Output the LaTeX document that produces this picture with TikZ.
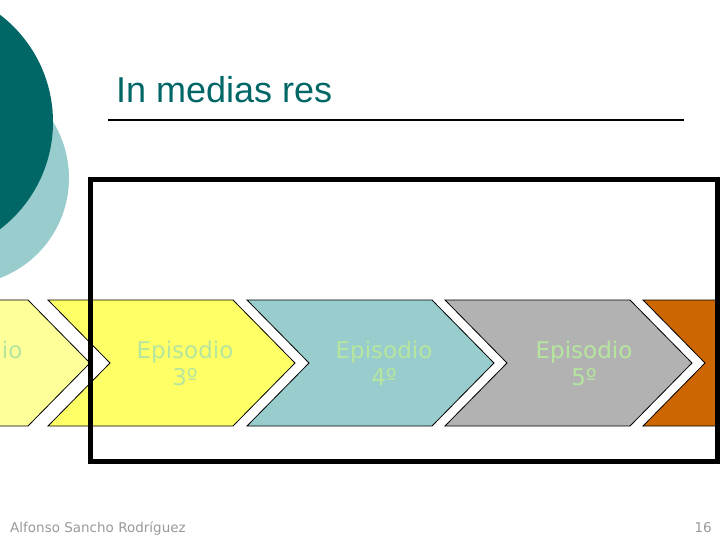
\documentclass[tikz,border=0pt]{standalone}
\usepackage{fontspec}
\setmainfont{Liberation Sans}
\newfontfamily\epfont{DejaVu Sans}
\definecolor{tealdark}{HTML}{006666}
\definecolor{tealpale}{HTML}{99CCCC}
\definecolor{yellowpale}{HTML}{FFFF99}
\definecolor{yellowmid}{HTML}{FFFF66}
\definecolor{greymid}{HTML}{B2B2B2}
\definecolor{orangedeep}{HTML}{CC6600}
\definecolor{epgreen}{HTML}{B6E69E}
\definecolor{footgrey}{HTML}{999999}

\begin{document}
\begin{tikzpicture}[
    x=1pt, y=-1pt,
    chevron/.style={draw=black, line width=0.8pt, line join=miter},
    eplabel/.style={font=\epfont\fontsize{23}{27}\selectfont, text=epgreen, align=center},
    title/.style={font=\fontsize{36}{40}\selectfont, text=tealdark, anchor=base west, inner sep=0pt},
    footer/.style={font=\epfont\fontsize{13.5}{15}\selectfont, text=footgrey, inner sep=0pt},
    frame/.style={draw=black, line width=5pt}
]
\useasboundingbox (0,0) rectangle (720,540);
\clip (0,0) rectangle (720,540);
% circles in the corner
\fill[tealpale] (-38,178) circle (107);
\fill[tealdark] (-82,122) circle (135);
% title and rule
\node[title] (title) at (116,103) {In medias res};
\coordinate (ruleL) at (108,120);
\coordinate (ruleR) at (684,120);
\draw[line width=1.2pt] (ruleL) -- (ruleR);
% chevrons
\foreach \x/\col/\num/\tx in {-157/yellowpale/2/-26, 48/yellowmid/3/185, 247/tealpale/4/384, 445/greymid/5/584}{
  \filldraw[chevron, fill=\col] (\x,300) -- ++(185,0) -- ++(62,63) -- ++(-62,63)
      -- ++(-185,0) -- ++(62,-63) -- cycle;
  \node[eplabel] (ep\num) at (\tx,363) {Episodio\\\num º};
}
\filldraw[chevron, fill=orangedeep] (643,300) -- (760,300) -- (760,426)
    -- (643,426) -- (705,363) -- cycle;
% frame
\draw[frame] (90,180) rectangle (717,461);
% footer
\node[footer, anchor=base west] (author) at (10,532) {Alfonso Sancho Rodríguez};
\node[footer, anchor=base east] (page) at (712,532) {16};
\end{tikzpicture}
\end{document}
